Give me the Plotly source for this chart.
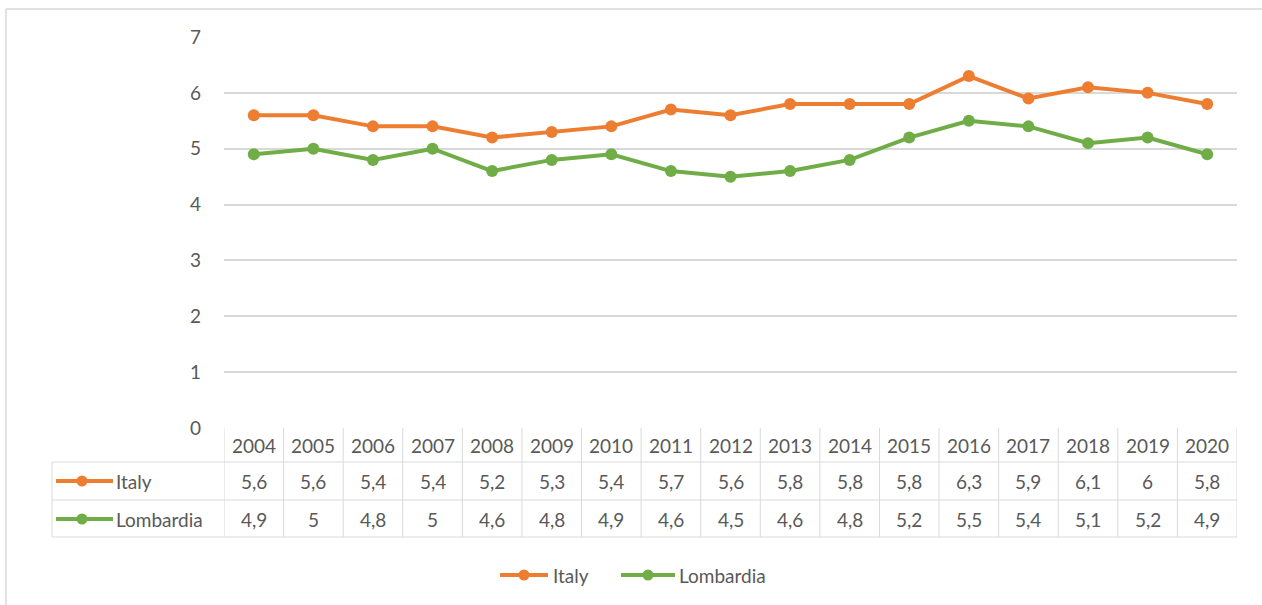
import plotly.graph_objects as go

years = ["2004", "2005", "2006", "2007", "2008", "2009", "2010", "2011", "2012",
         "2013", "2014", "2015", "2016", "2017", "2018", "2019", "2020"]
italy = [5.6, 5.6, 5.4, 5.4, 5.2, 5.3, 5.4, 5.7, 5.6, 5.8, 5.8, 5.8, 6.3, 5.9, 6.1, 6, 5.8]
lombardia = [4.9, 5, 4.8, 5, 4.6, 4.8, 4.9, 4.6, 4.5, 4.6, 4.8, 5.2, 5.5, 5.4, 5.1, 5.2, 4.9]
series_names = ["Italy", "Lombardia"]
series_values = [italy, lombardia]
colors = ["#ED7D31", "#70AD47"]
y_ticks = [0, 1, 2, 3, 4, 5, 6, 7]

W, H = 1262, 605
FONT = "Lato"
TXT = "#595959"
GRID = "#D9D9D9"
FS = 19


def px(x):
    return x / W


def py(y):
    return 1 - y / H


def fmt(v):
    return f"{v:g}".replace(".", ",")


fig = go.Figure()
for name, vals, c in zip(series_names, series_values, colors):
    fig.add_trace(go.Scatter(
        x=years, y=vals, name=name, mode="lines+markers",
        line=dict(color=c, width=4),
        marker=dict(color=c, size=12, line=dict(width=0)),
        cliponaxis=False,
    ))

shapes = []
annotations = []

# outer frame (top & left visible)
shapes.append(dict(type="line", xref="paper", yref="paper", x0=px(6), x1=1.0,
                   y0=py(9), y1=py(9), line=dict(color=GRID, width=1.5)))
shapes.append(dict(type="line", xref="paper", yref="paper", x0=px(6), x1=px(6),
                   y0=py(9), y1=0, line=dict(color=GRID, width=1.5)))

# data table grid
row_tops = [428, 462, 500, 537]
for k in range(len(years) + 1):
    shapes.append(dict(type="line", xref="x", yref="paper", x0=k - 0.5, x1=k - 0.5,
                       y0=py(428), y1=py(537), line=dict(color=GRID, width=1)))
for yy in row_tops[1:]:
    shapes.append(dict(type="line", xref="paper", yref="paper", x0=px(52), x1=px(1237),
                       y0=py(yy), y1=py(yy), line=dict(color=GRID, width=1)))
shapes.append(dict(type="line", xref="paper", yref="paper", x0=px(52), x1=px(52),
                   y0=py(462), y1=py(537), line=dict(color=GRID, width=1)))

# header years
for i, yr in enumerate(years):
    annotations.append(dict(x=i, y=py(445), xref="x", yref="paper", text=yr,
                            showarrow=False, font=dict(family=FONT, size=FS, color=TXT),
                            xanchor="center", yanchor="middle"))

row_centers = [481, 519]
for r, (name, vals, c) in enumerate(zip(series_names, series_values, colors)):
    yc = row_centers[r]
    for i, v in enumerate(vals):
        annotations.append(dict(x=i, y=py(yc), xref="x", yref="paper", text=fmt(v),
                                showarrow=False, font=dict(family=FONT, size=FS, color=TXT),
                                xanchor="center", yanchor="middle"))
    # legend key in table
    shapes.append(dict(type="line", xref="paper", yref="paper", x0=px(56), x1=px(113),
                       y0=py(yc), y1=py(yc), line=dict(color=c, width=4)))
    shapes.append(dict(type="circle", xref="paper", yref="paper",
                       x0=px(82 - 5.5), x1=px(82 + 5.5), y0=py(yc - 5.5), y1=py(yc + 5.5),
                       fillcolor=c, line=dict(width=0)))
    annotations.append(dict(x=px(114), y=py(yc), xref="paper", yref="paper", text=name,
                            showarrow=False, font=dict(family=FONT, size=FS, color=TXT),
                            xanchor="left", yanchor="middle"))

# bottom legend (drawn manually for exact placement)
legend_items = [(500, 548, 551), (621, 675, 677)]
for (x0, x1, xt), name, c in zip(legend_items, series_names, colors):
    shapes.append(dict(type="line", xref="paper", yref="paper", x0=px(x0), x1=px(x1),
                       y0=py(575), y1=py(575), line=dict(color=c, width=4)))
    xc = (x0 + x1) / 2
    shapes.append(dict(type="circle", xref="paper", yref="paper",
                       x0=px(xc - 5.5), x1=px(xc + 5.5), y0=py(575 - 5.5), y1=py(575 + 5.5),
                       fillcolor=c, line=dict(width=0)))
    annotations.append(dict(x=px(xt), y=py(575), xref="paper", yref="paper", text=name,
                            showarrow=False, font=dict(family=FONT, size=FS, color=TXT),
                            xanchor="left", yanchor="middle"))

fig.update_layout(
    template="none",
    width=W, height=H,
    autosize=False,
    margin=dict(l=0, r=0, t=0, b=0, pad=0, autoexpand=False),
    paper_bgcolor="white", plot_bgcolor="white",
    showlegend=False,
    font=dict(family=FONT, size=FS, color=TXT),
    xaxis=dict(domain=[px(224), px(1237)], type="category", range=[-0.5, len(years) - 0.5],
               showticklabels=False, showgrid=False, zeroline=False, showline=False,
               automargin=False, fixedrange=True),
    yaxis=dict(domain=[py(428), py(37)], range=[0, 7], tickvals=y_ticks,
               showgrid=True, gridcolor=GRID, gridwidth=1.5, zeroline=False,
               showline=False, ticks="", ticklabelstandoff=22, automargin=False,
               tickfont=dict(family=FONT, size=FS, color=TXT), fixedrange=True),
    shapes=shapes,
    annotations=annotations,
)

fig.write_html(
    "out.html",
    config={"displayModeBar": False},
    post_script="document.body.style.margin='0';document.body.style.overflow='hidden';",
)
